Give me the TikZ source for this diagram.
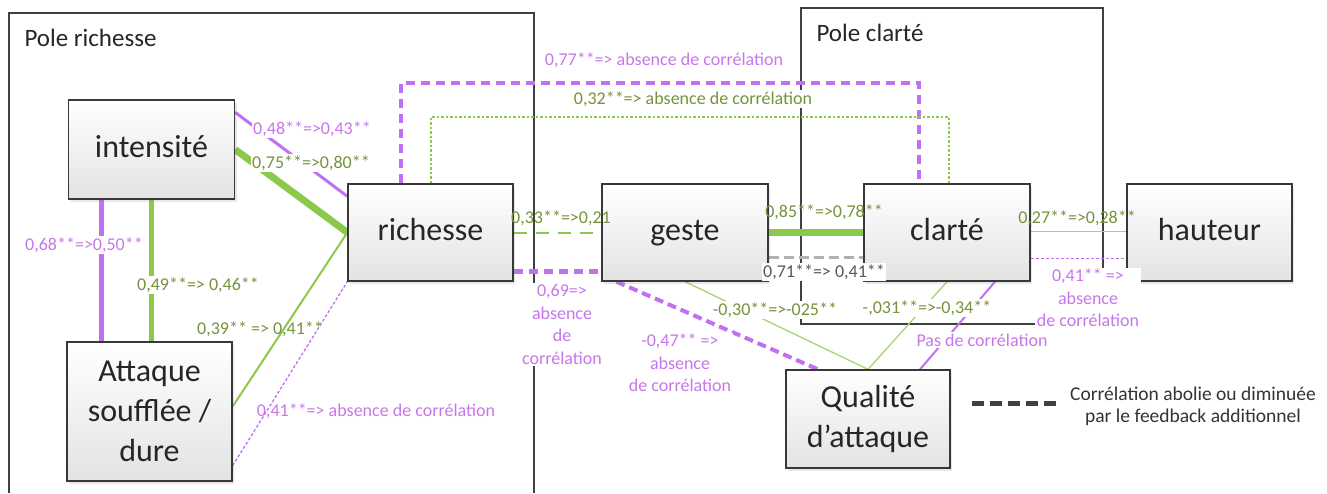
\documentclass[tikz,border=0pt]{standalone}
\usepackage{fontspec}
\setmainfont{Carlito}
\usetikzlibrary{shadows,calc}
\definecolor{pline}{RGB}{192,112,240}
\definecolor{ptext}{RGB}{200,118,235}
\definecolor{gline}{RGB}{140,200,75}
\definecolor{glight}{RGB}{170,210,120}
\definecolor{gtext}{RGB}{118,146,60}
\definecolor{grayd}{RGB}{176,176,176}
\pgfdeclarelayer{back}
\pgfsetlayers{back,main}
\tikzset{
  box/.style={draw=black!78, line width=1.3pt, top color=white, bottom color=black!11,
    inner sep=0pt, align=center, text=black!85,
    font=\fontsize{32}{40}\selectfont,
    drop shadow={shadow xshift=2pt, shadow yshift=-3pt, opacity=0.18}},
  one/.style={text height=22pt, text depth=7pt},
  pole/.style={draw=black!75, line width=1.2pt},
  lbl/.style={font=\fontsize{18}{22.5}\selectfont, inner sep=1.5pt, align=center},
  plab/.style={lbl, text=ptext},
  glab/.style={lbl, text=gtext},
  wf/.style={fill=white},
  title/.style={anchor=west, font=\fontsize{25}{30}\selectfont, text=black!85},
}
\begin{document}
\begin{tikzpicture}[x=1pt,y=-1pt]
\useasboundingbox (0,0) rectangle (1327,493);

% nodes
\node[box, one, minimum width=166pt, minimum height=99pt] (intens) at (151.5,149.5) {intensité};
\node[box, minimum width=165pt, minimum height=139pt] (att) at (149.5,411.5) {Attaque\\soufflée /\\dure};
\node[box, one, minimum width=165pt, minimum height=97pt] (rich) at (430.5,232.5) {richesse};
\node[box, one, minimum width=166pt, minimum height=97pt] (geste) at (685,232.5) {geste};
\node[box, one, minimum width=166pt, minimum height=97pt] (clar) at (947,232.5) {clarté};
\node[box, one, minimum width=165pt, minimum height=97pt] (haut) at (1209.5,232.5) {hauteur};
\node[box, minimum width=164pt, minimum height=98pt] (qual) at (868,419) {Qualité\\d’attaque};

\node[title] (t1) at (21,38) {Pole richesse};
\node[title] (t2) at (813,33) {Pole clarté};

\coordinate (ytop) at (0,83);
\coordinate (ygr) at (0,117);
\coordinate (r7) at ([xshift=-29.5pt]rich.north);
\coordinate (c7) at ([xshift=-28pt]clar.north);
\coordinate (r8) at ([xshift=0.5pt]rich.north);
\coordinate (c8) at ([xshift=2pt]clar.north);
\coordinate (i5) at ([xshift=-50.5pt]intens.south);
\coordinate (pr1) at (9,493);
\coordinate (pr2) at (9,13);
\coordinate (pr3) at (534,13);
\coordinate (pr4) at (534,493);
\coordinate (pc1) at (801,8);
\coordinate (pc2) at (1103,324);
\coordinate (lg1) at (972,403);
\coordinate (lg2) at (1058,403);

\begin{pgfonlayer}{back}
\draw[pole] (pr1) -- (pr2) -- (pr3) -- (pr4);
\draw[pole] (pc1) rectangle (pc2);
% intensite - richesse
\draw[pline, line width=3pt] ([yshift=-13pt]intens.north east) -- ([yshift=-13pt]rich.north west);
\draw[gline, line width=7pt] (intens.east) -- (rich.west);
% attaque - richesse
\draw[gline, line width=2pt] ([yshift=5pt]att.east) -- (rich.west);
\draw[pline, line width=1.3pt, dash pattern=on 3pt off 2pt] ([yshift=16pt]att.south east) -- (rich.south west);
% intensite - attaque
\draw[pline, line width=5pt] (i5) -- (i5 |- att.north);
\draw[gline, line width=5.5pt] (intens.south) -- (intens.south |- att.north);
% richesse - clarte (top)
\draw[pline, line width=4.5pt, dash pattern=on 9pt off 6pt] (r7) -- (r7 |- ytop) -- (c7 |- ytop) -- (c7);
\draw[gline, line width=1.3pt, dash pattern=on 2.5pt off 2pt] (r8) -- (r8 |- ygr) -- (c8 |- ygr) -- (c8);
% richesse - geste
\draw[gline, line width=2pt, dash pattern=on 13pt off 9pt] (rich.east) -- (geste.west);
\draw[pline, line width=4.5pt, dash pattern=on 9pt off 6pt] ([yshift=10pt]rich.south east) -- ([yshift=10pt]geste.south west);
% geste - clarte
\draw[gline, line width=7pt, line cap=round] (geste.east) -- (clar.west);
\draw[grayd, line width=2.5pt, dash pattern=on 10pt off 5pt] ([yshift=24pt]geste.south east) -- ([yshift=24pt]clar.south west);
% geste - qualite
\draw[pline, line width=4pt, dash pattern=on 9pt off 5pt] ([xshift=15pt]geste.south west) -- ([xshift=-50pt]qual.north);
\draw[glight, line width=1.3pt] (geste.south) -- (qual.north);
% clarte - qualite
\draw[glight, line width=1.3pt] (clar.south) -- (qual.north);
\draw[pline, line width=2pt] ([xshift=48pt]clar.south) -- ([xshift=52pt]qual.north);
% clarte - hauteur
\draw[glight, line width=1.5pt] ([yshift=1pt]clar.east) -- ([yshift=1pt]haut.west);
\draw[pline, line width=1.3pt, dash pattern=on 3pt off 2pt] ([yshift=23pt]clar.south east) -- ([yshift=23pt]haut.south west);
\end{pgfonlayer}

% labels
\node[plab, wf] (l1) at (312,129) {0,48**=>0,43**};
\node[glab, wf] (l2) at (311,163) {0,75**=>0,80**};
\node[plab, wf] (l3) at (84,245) {0,68**=>0,50**};
\node[glab, wf] (l4) at (198,285) {0,49**=> 0,46**};
\node[glab] (l5) at (260,329) {0,39** => 0,41**};
\node[plab] (l6) at (376,411) {0,41**=> absence de corrélation};
\node[plab] (l7) at (664,60) {0,77**=> absence de corrélation};
\node[glab, wf] (l8) at (693,99) {0,32**=> absence de corrélation};
\node[glab] (l9) at (561,218) {0,33**=>0,21};
\node[plab, wf] (l10) at (562,324.5) {0,69=>\\absence\\de\\corrélation};
\node[glab] (l11) at (824,212) {0,85**=>0,78**};
\node[lbl, wf, text=black!65] (l12) at (824,272) {0,71**=> 0,41**};
\node[plab, wf] (l13) at (680,363) {-0,47** =>\\absence\\de corrélation};
\node[glab, wf] (l14) at (775,310) {-0,30**=>-025**};
\node[glab, wf] (l15) at (927,308) {-,031**=>-0,34**};
\node[plab, wf] (l16) at (982,340) {Pas de corrélation};
\node[glab] (l17) at (1077,218) {0,27**=>0,28**};
\node[plab, wf] (l18) at (1088,298) {0,41** =>\\absence\\de corrélation};

% legend
\draw[black!75, line width=5pt, dash pattern=on 12pt off 6pt] (lg1) -- (lg2);
\node[lbl, text=black!80, font=\fontsize{19.5}{22}\selectfont] (leg) at (1193,406) {Corrélation abolie ou diminuée\\par le feedback additionnel};
\end{tikzpicture}
\end{document}
